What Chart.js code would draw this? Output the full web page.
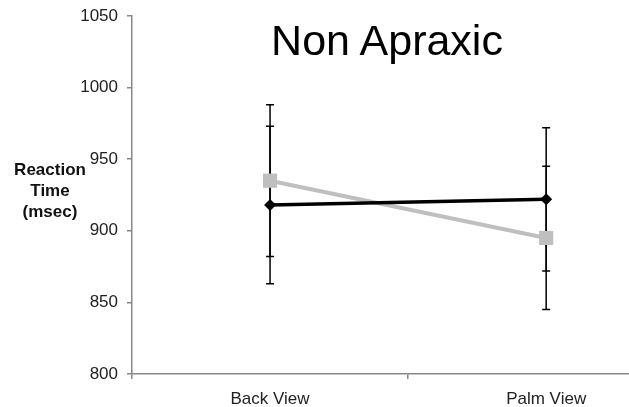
<!DOCTYPE html>
<html>
<head>
<meta charset="utf-8">
<script src="https://cdn.jsdelivr.net/npm/chart.js@4"></script>
<style>
  html, body { margin: 0; padding: 0; background: #fff; }
  #wrap { position: relative; width: 629px; height: 407px; }
  #title {
    position: absolute; left: 387px; top: 16px; transform: translateX(-50%);
    font-family: "Liberation Sans", Arial, sans-serif; font-size: 43px; color: #000;
    white-space: nowrap; line-height: 48px;
  }
  #ylabel {
    position: absolute; left: 50px; top: 159px; transform: translateX(-50%);
    font-family: "Liberation Sans", Arial, sans-serif; font-weight: bold; font-size: 17px;
    line-height: 21px; text-align: center; color: #111; white-space: nowrap;
  }
</style>
</head>
<body>
<div id="wrap">
  <canvas id="chart" width="629" height="407"></canvas>
  <div id="title">Non Apraxic</div>
  <div id="ylabel">Reaction<br>Time<br>(msec)</div>
</div>
<script>
const categories = ['Back View', 'Palm View'];
const blackMeans = [918, 922];
const blackErr = [55, 50];
const grayMeans = [935, 895];
const grayErr = [53, 50];
const yTicks = [800, 850, 900, 950, 1000, 1050];

// error bars drawn under the lines/markers
const errorBars = {
    id: 'errorBars',
    beforeDatasetsDraw(chart) {
        const ctx = chart.ctx;
        const y = chart.scales.y;
        ctx.save();
        ctx.strokeStyle = '#000';
        ctx.lineWidth = 1.5;
        chart.data.datasets.forEach((ds, i) => {
            const meta = chart.getDatasetMeta(i);
            meta.data.forEach((pt, j) => {
                const v = ds.data[j].y;
                const e = ds.errors[j];
                const top = y.getPixelForValue(v + e);
                const bot = y.getPixelForValue(v - e);
                ctx.beginPath();
                ctx.moveTo(pt.x, top);
                ctx.lineTo(pt.x, bot);
                ctx.moveTo(pt.x - 4, top);
                ctx.lineTo(pt.x + 4, top);
                ctx.moveTo(pt.x - 4, bot);
                ctx.lineTo(pt.x + 4, bot);
                ctx.stroke();
            });
        });
        ctx.restore();
    }
};

const data = {
    datasets: [{
        label: 'Black',
        data: blackMeans.map((v, i) => ({x: i, y: v})),
        errors: blackErr,
        borderColor: '#000',
        backgroundColor: '#000',
        borderWidth: 3.5,
        pointStyle: 'rectRot',
        pointRadius: 6,
        pointBorderWidth: 0,
    },
    {
        label: 'Gray',
        data: grayMeans.map((v, i) => ({x: i, y: v})),
        errors: grayErr,
        borderColor: '#bfbfbf',
        backgroundColor: '#bfbfbf',
        borderWidth: 4,
        pointStyle: 'rect',
        pointRadius: 10,
        pointBorderWidth: 0,
    }]
};

const config = {
    type: 'line',
    data: data,
    options: {
        responsive: false,
        animation: false,
        layout: { autoPadding: false, padding: { top: 16, right: 0, bottom: 0, left: 0 } },
        plugins: { legend: { display: false }, tooltip: { enabled: false } },
        scales: {
            x: {
                type: 'linear',
                min: -0.5,
                max: 1.3,
                afterBuildTicks: (scale) => {
                    scale.ticks = [-0.5, 0, 0.5, 1, 1.3].map(v => ({value: v}));
                },
                afterFit: (scale) => {
                    scale.height = 33;
                    scale.paddingLeft = 0;
                    scale.paddingRight = 0;
                },
                border: { color: '#888', width: 1.5 },
                grid: {
                    drawOnChartArea: false,
                    tickLength: 5,
                    lineWidth: 1.5,
                    color: (c) => (c.tick && (c.tick.value === -0.5 || c.tick.value === 0.5)) ? '#888' : 'rgba(0,0,0,0)',
                },
                ticks: {
                    autoSkip: false,
                    maxRotation: 0,
                    padding: 10,
                    color: '#222',
                    font: { family: '"Liberation Sans", Arial, sans-serif', size: 17 },
                    callback: (v) => Number.isInteger(v) ? categories[v] : '',
                },
            },
            y: {
                min: 800,
                max: 1050,
                afterBuildTicks: (scale) => {
                    scale.ticks = yTicks.map(v => ({value: v}));
                },
                afterFit: (scale) => {
                    scale.width = 132;
                    scale.paddingTop = 0;
                    scale.paddingBottom = 0;
                },
                border: { color: '#888', width: 1.5 },
                grid: { drawOnChartArea: false, tickLength: 5, lineWidth: 1.5, color: '#888' },
                ticks: {
                    padding: 9,
                    color: '#222',
                    font: { family: '"Liberation Sans", Arial, sans-serif', size: 17 },
                    callback: (v) => String(v),
                },
            },
        },
    },
    plugins: [errorBars],
};

const chart = new Chart(document.getElementById('chart'), config);
</script>
</body>
</html>
